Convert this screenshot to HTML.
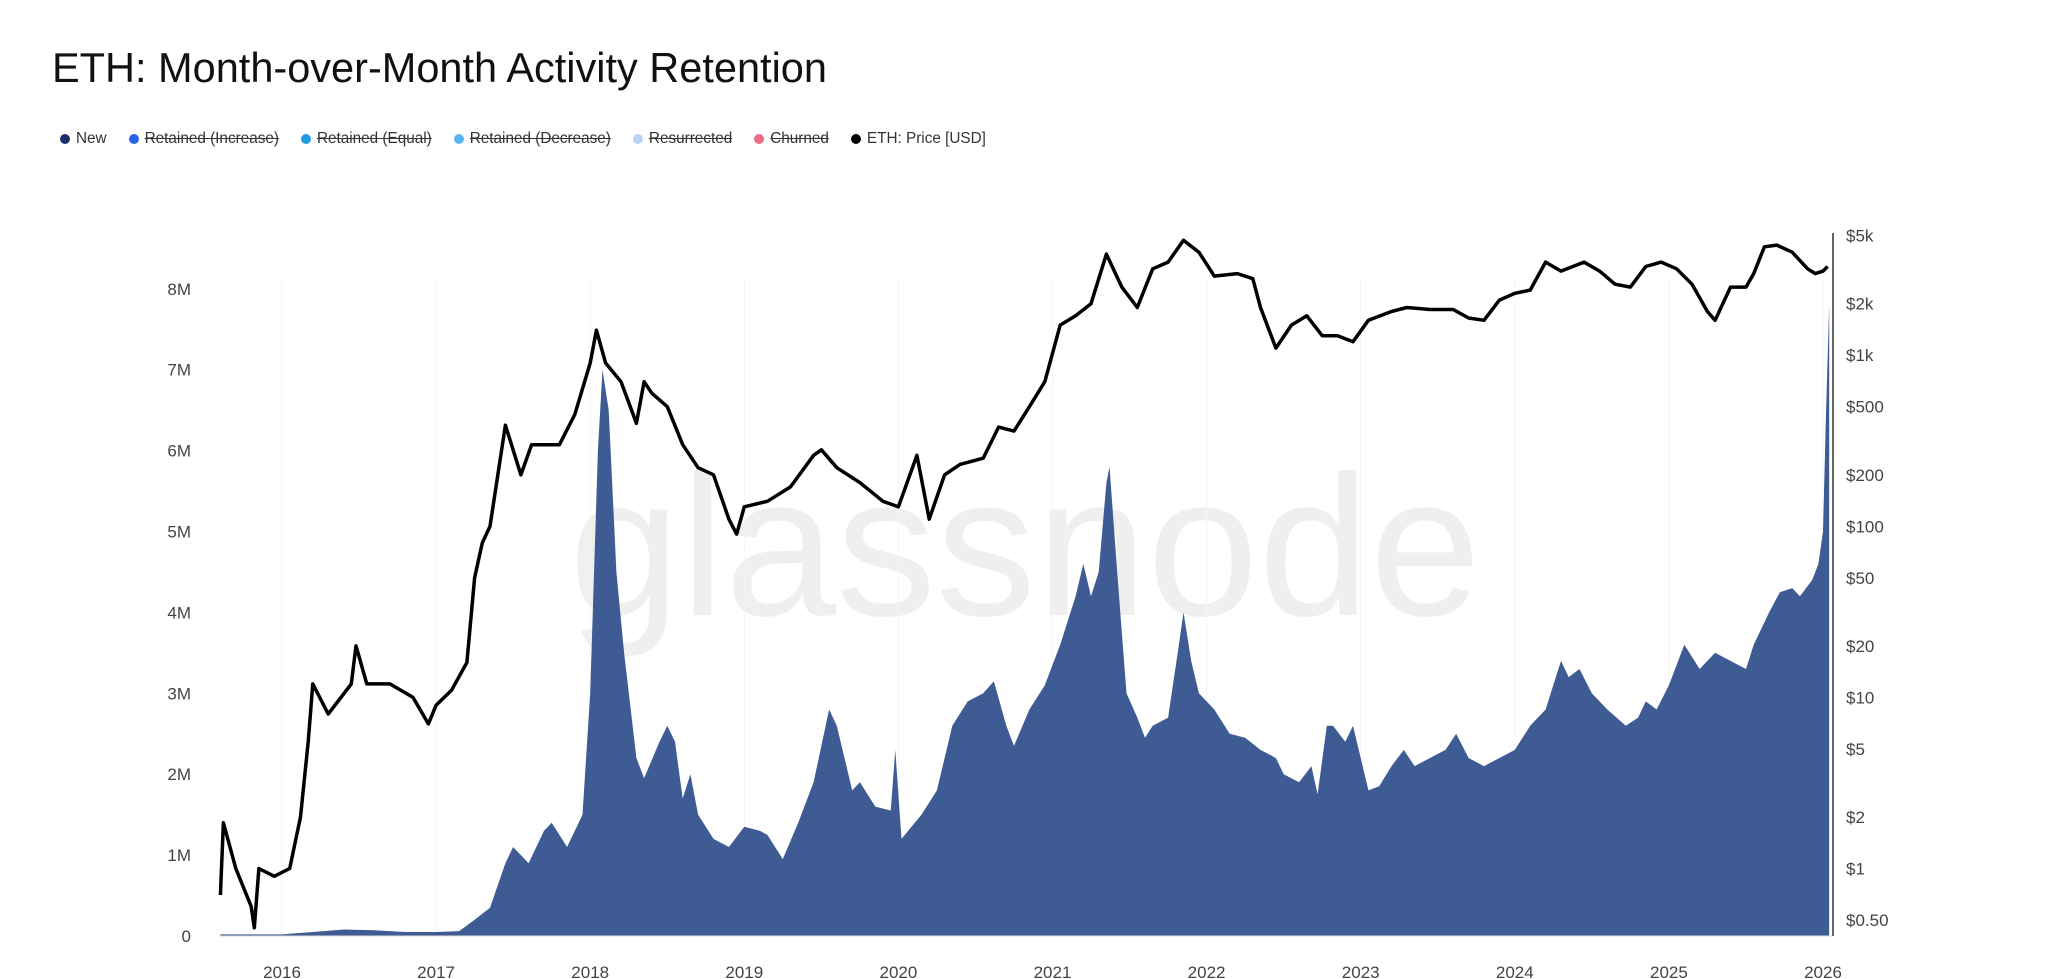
<!DOCTYPE html>
<html><head><meta charset="utf-8">
<style>
html,body{margin:0;padding:0;background:#fff;width:2048px;height:979px;overflow:hidden;font-family:"Liberation Sans",sans-serif;}
#title{position:absolute;left:52px;top:44px;font-size:41.5px;color:#111;}
#legend{position:absolute;left:60px;top:130px;font-size:15.3px;color:#333;display:flex;gap:22px;}
.li{display:flex;align-items:center;gap:6px;}
.dot{width:10px;height:10px;border-radius:50%;display:inline-block;}
.off{text-decoration:line-through;}
svg{position:absolute;left:0;top:0;}
</style></head><body>
<div id="title">ETH: Month-over-Month Activity Retention</div>
<div id="legend">
<span class="li"><span class="dot" style="background:#1b2f6b"></span>New</span>
<span class="li off"><span class="dot" style="background:#2563eb"></span>Retained (Increase)</span>
<span class="li off"><span class="dot" style="background:#1e9be0"></span>Retained (Equal)</span>
<span class="li off"><span class="dot" style="background:#5ab4f2"></span>Retained (Decrease)</span>
<span class="li off"><span class="dot" style="background:#b5d3f5"></span>Resurrected</span>
<span class="li off"><span class="dot" style="background:#ee6a86"></span>Churned</span>
<span class="li"><span class="dot" style="background:#000"></span>ETH: Price [USD]</span>
</div>
<svg id="chart" width="2048" height="979"></svg>
<script>
const newYears=[2015.6,2016.0,2016.2,2016.4,2016.6,2016.8,2017.0,2017.15,2017.25,2017.35,2017.45,2017.5,2017.6,2017.7,2017.75,2017.85,2017.95,2018.0,2018.05,2018.08,2018.12,2018.17,2018.22,2018.3,2018.35,2018.45,2018.5,2018.55,2018.6,2018.65,2018.7,2018.8,2018.9,2019.0,2019.1,2019.15,2019.25,2019.35,2019.45,2019.55,2019.6,2019.7,2019.75,2019.85,2019.95,2019.98,2020.02,2020.15,2020.25,2020.35,2020.45,2020.55,2020.62,2020.7,2020.75,2020.85,2020.95,2021.05,2021.15,2021.2,2021.25,2021.3,2021.35,2021.37,2021.42,2021.48,2021.55,2021.6,2021.65,2021.75,2021.82,2021.85,2021.9,2021.95,2022.05,2022.15,2022.25,2022.35,2022.45,2022.5,2022.6,2022.68,2022.72,2022.78,2022.82,2022.9,2022.95,2023.05,2023.12,2023.2,2023.28,2023.35,2023.45,2023.55,2023.62,2023.7,2023.8,2023.9,2024.0,2024.1,2024.2,2024.3,2024.35,2024.42,2024.5,2024.6,2024.72,2024.8,2024.85,2024.92,2025.0,2025.1,2025.2,2025.3,2025.4,2025.5,2025.55,2025.65,2025.72,2025.8,2025.85,2025.93,2025.97,2026.0,2026.02,2026.04];
const newValues=[0.02,0.02,0.05,0.08,0.07,0.05,0.05,0.06,0.2,0.35,0.9,1.1,0.9,1.3,1.4,1.1,1.5,3.0,6.0,7.0,6.5,4.5,3.5,2.2,1.95,2.4,2.6,2.4,1.7,2.0,1.5,1.2,1.1,1.35,1.3,1.25,0.95,1.4,1.9,2.8,2.6,1.8,1.9,1.6,1.55,2.3,1.2,1.5,1.8,2.6,2.9,3.0,3.15,2.6,2.35,2.8,3.1,3.6,4.2,4.6,4.2,4.5,5.6,5.8,4.5,3.0,2.7,2.45,2.6,2.7,3.6,4.0,3.4,3.0,2.8,2.5,2.45,2.3,2.2,2.0,1.9,2.1,1.75,2.6,2.6,2.4,2.6,1.8,1.85,2.1,2.3,2.1,2.2,2.3,2.5,2.2,2.1,2.2,2.3,2.6,2.8,3.4,3.2,3.3,3.0,2.8,2.6,2.7,2.9,2.8,3.1,3.6,3.3,3.5,3.4,3.3,3.6,4.0,4.25,4.3,4.2,4.4,4.6,5.0,6.5,7.8];
const priceYears=[2015.6,2015.62,2015.7,2015.8,2015.82,2015.85,2015.95,2016.05,2016.12,2016.17,2016.2,2016.3,2016.45,2016.48,2016.55,2016.7,2016.85,2016.95,2017.0,2017.1,2017.2,2017.25,2017.3,2017.35,2017.45,2017.5,2017.55,2017.62,2017.7,2017.8,2017.9,2018.0,2018.04,2018.1,2018.2,2018.3,2018.35,2018.4,2018.5,2018.6,2018.7,2018.8,2018.9,2018.95,2019.0,2019.15,2019.3,2019.45,2019.5,2019.6,2019.75,2019.9,2020.0,2020.12,2020.2,2020.3,2020.4,2020.55,2020.65,2020.75,2020.85,2020.95,2021.05,2021.15,2021.25,2021.35,2021.45,2021.55,2021.65,2021.75,2021.85,2021.95,2022.05,2022.2,2022.3,2022.35,2022.45,2022.55,2022.65,2022.75,2022.85,2022.95,2023.05,2023.2,2023.3,2023.45,2023.6,2023.7,2023.8,2023.9,2024.0,2024.1,2024.2,2024.3,2024.45,2024.55,2024.65,2024.75,2024.85,2024.95,2025.05,2025.15,2025.25,2025.3,2025.4,2025.5,2025.55,2025.62,2025.7,2025.8,2025.9,2025.95,2026.0,2026.03];
const priceValues=[0.7,1.85,1.0,0.6,0.45,1.0,0.9,1.0,2.0,5.5,12,8,12,20,12,12,10,7,9,11,16,50,80,100,390,280,200,300,300,300,450,900,1400,900,700,400,700,600,500,300,220,200,110,90,130,140,170,260,280,220,180,140,130,260,110,200,230,250,380,360,500,700,1500,1700,2000,3900,2500,1900,3200,3500,4700,4000,2900,3000,2800,1900,1100,1500,1700,1300,1300,1200,1600,1800,1900,1850,1850,1650,1600,2100,2300,2400,3500,3100,3500,3100,2600,2500,3300,3500,3200,2600,1800,1600,2500,2500,3000,4300,4400,4000,3200,3000,3100,3300];
const yearTicks=[2016,2017,2018,2019,2020,2021,2022,2023,2024,2025,2026];
const leftTicks=[0,1,2,3,4,5,6,7,8];
const leftLabels=["0","1M","2M","3M","4M","5M","6M","7M","8M"];
const rightTicks=[5000,2000,1000,500,200,100,50,20,10,5,2,1,0.5];
const rightLabels=["$5k","$2k","$1k","$500","$200","$100","$50","$20","$10","$5","$2","$1","$0.50"];

const NS="http://www.w3.org/2000/svg";
const svg=document.getElementById('chart');
const X=y=>282+(y-2016)*154.1;
const YL=v=>936-v*80.9;
const YR=p=>868.5-171.1*Math.log10(p);
function mk(t,a,p){const e=document.createElementNS(NS,t);for(const k in a)e.setAttribute(k,a[k]);(p||svg).appendChild(e);return e;}

const wm=mk('text',{x:1025,y:615,'text-anchor':'middle','font-size':200,fill:'#efefef','font-family':'Liberation Sans, sans-serif'});
wm.textContent='glassnode';



yearTicks.forEach(y=>{
 const g=mk('line',{x1:X(y),x2:X(y),y1:280,y2:936,stroke:'#f4f4f4','stroke-width':1});
 
 
 const t=mk('text',{x:X(y),y:978,'text-anchor':'middle','font-size':17,fill:'#444'});
 t.textContent=y;
 
 
});
leftTicks.forEach((v,i)=>{
 const t=mk('text',{x:191,y:YL(v)+6,'text-anchor':'end','font-size':17,fill:'#444'});
 t.textContent=leftLabels[i];
 
 
});
rightTicks.forEach((v,i)=>{
 const t=mk('text',{x:1846,y:YR(v)+6,'font-size':17,fill:'#444'});
 t.textContent=rightLabels[i];
 
 
});

let d='M'+X(newYears[0])+','+YL(0);
newYears.forEach((y,i)=>{d+=' L'+X(y).toFixed(1)+','+YL(newValues[i]).toFixed(1);});
d+=' L'+X(newYears[newYears.length-1])+','+YL(0)+' Z';
const area=mk('path',{d:d,fill:'#3f5b94'});



const base=mk('line',{x1:219,x2:1833,y1:936,y2:936,stroke:'#ddd','stroke-width':1});


const ax=mk('line',{x1:1833,x2:1833,y1:233,y2:936,stroke:'#333','stroke-width':1.5});



let pd='';
priceYears.forEach((y,i)=>{pd+=(i?' L':'M')+X(y).toFixed(1)+','+YR(priceValues[i]).toFixed(1);});
const pl=mk('path',{d:pd,fill:'none',stroke:'#000','stroke-width':3.5,'stroke-linejoin':'round'});


</script>
</body></html>
